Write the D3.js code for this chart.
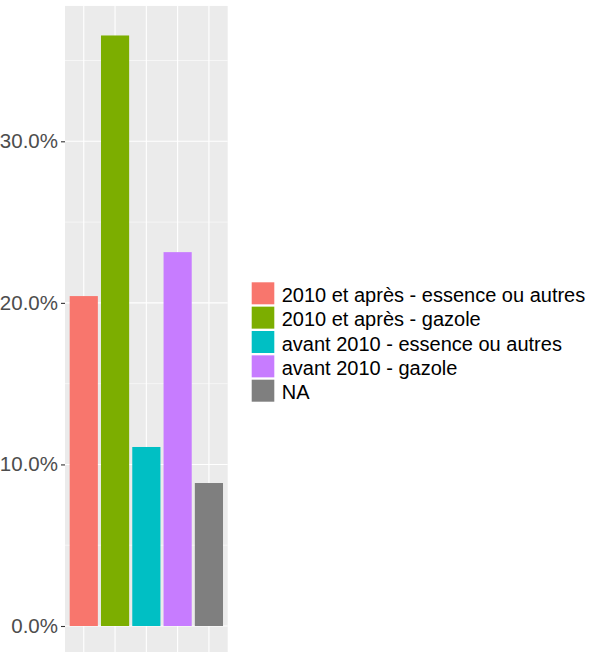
<!DOCTYPE html>
<html><head><meta charset="utf-8">
<script src="https://cdn.jsdelivr.net/npm/d3@7"></script>
<style>body{margin:0;background:#fff}svg{display:block}</style>
</head><body>
<svg id="c" width="603" height="652"></svg>
<script>
const categories = ["2010 et après - essence ou autres","2010 et après - gazole","avant 2010 - essence ou autres","avant 2010 - gazole","NA"];
const values = [0.2042, 0.3655, 0.1108, 0.2314, 0.0885];
const colors = ["#F8766D","#7CAE00","#00BFC4","#C77CFF","#7F7F7F"];
const yTicks = [0, 0.1, 0.2, 0.3];
const yMinor = [0.05, 0.15, 0.25, 0.35];
const title = "Répartition par type de véhicule";

(function(){
const svg = d3.select("#c");
const left = 65, right = 227.7;
const maxV = d3.max(values);
const y = d3.scaleLinear().domain([0, 0.3]).range([626, 141.3]);
const pTop = y(maxV*1.05), pBottom = y(-maxV*0.05);
const x = d3.scalePoint().domain(categories).range([left, right]).padding(0.6);
const bw = x.step()*0.9;

svg.append("text").attr("x", left).attr("y", -5.5).attr("font-family","Liberation Sans, Arial, sans-serif")
  .attr("font-size", 24).attr("fill","#000").text(title);

const g = svg.append("g");
g.append("rect").attr("x", left).attr("y", pTop).attr("width", right-left).attr("height", pBottom-pTop).attr("fill","#EBEBEB");
g.selectAll(".minor").data(yMinor).join("line").attr("x1",left).attr("x2",right)
  .attr("y1",d=>y(d)).attr("y2",d=>y(d)).attr("stroke","#fff").attr("stroke-width",0.55);
g.selectAll(".major").data(yTicks).join("line").attr("x1",left).attr("x2",right)
  .attr("y1",d=>y(d)).attr("y2",d=>y(d)).attr("stroke","#fff").attr("stroke-width",1.1);
g.selectAll(".vmajor").data(categories).join("line").attr("y1",pTop).attr("y2",pBottom)
  .attr("x1",d=>x(d)).attr("x2",d=>x(d)).attr("stroke","#fff").attr("stroke-width",1.1);

g.selectAll(".bar").data(categories).join("rect")
  .attr("x", d=>x(d)-bw/2).attr("width", bw)
  .attr("y", (d,i)=>y(values[i])).attr("height", (d,i)=>y(0)-y(values[i]))
  .attr("fill", (d,i)=>colors[i]);

const yAxis = d3.axisLeft(y).tickValues(yTicks).tickFormat(d3.format(".1%")).tickSize(4).tickPadding(3);
const ax = svg.append("g").attr("transform",`translate(${left},0)`).call(yAxis);
ax.select(".domain").remove();
ax.selectAll(".tick line").attr("stroke","#333").attr("stroke-width",1.1);
ax.selectAll(".tick text").attr("fill","#4D4D4D").attr("font-size",20.5).attr("font-family","Liberation Sans, Arial, sans-serif");

const lg = svg.append("g").attr("transform","translate(251.7,282.3)");
const pitch = 24.35;
const rows = lg.selectAll(".row").data(categories).join("g").attr("transform",(d,i)=>`translate(0,${i*pitch})`);
rows.append("rect").attr("width",22.6).attr("height",22).attr("fill",(d,i)=>colors[i]);
rows.append("text").attr("x",30).attr("y",19.5).attr("font-size",20).attr("fill","#000")
  .attr("font-family","Liberation Sans, Arial, sans-serif").text(d=>d);
})();
</script>
</body></html>
